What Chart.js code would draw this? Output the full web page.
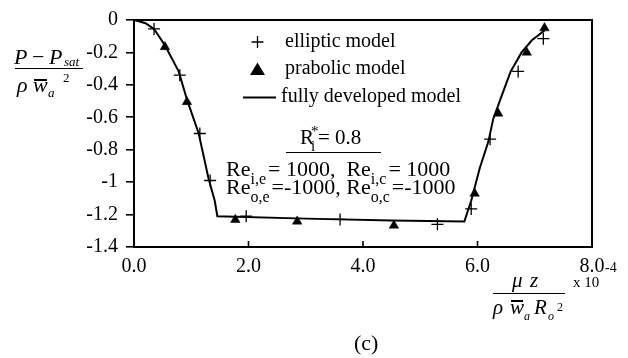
<!DOCTYPE html>
<html><head><meta charset="utf-8">
<script src="https://cdn.jsdelivr.net/npm/chart.js@4.4.1/dist/chart.umd.min.js"></script>
<style>
html,body{margin:0;padding:0;background:#fff;}
#wrap{position:relative;width:628px;height:358px;overflow:hidden;font-family:'Liberation Serif','Times New Roman',serif;color:#000;}
#c{position:absolute;left:0;top:0;}
.t{position:absolute;white-space:nowrap;line-height:1;}
.i{font-style:italic;}
.s{font-size:16px;position:relative;top:8px;margin-right:2px;}
.hl{position:absolute;background:#000;}
</style></head><body>
<div id="wrap"><canvas id="c" width="628" height="358"></canvas></div>
<script>
// ---- data ----
const seriesNames = ['elliptic model', 'prabolic model', 'fully developed model'];

const ellipticX = [0.35, 0.80, 1.15, 1.33, 1.96, 3.60, 5.30, 5.89, 6.22, 6.71, 7.15];
const ellipticY = [-0.055, -0.34, -0.70, -0.99, -1.21, -1.23, -1.26, -1.165, -0.735, -0.317, -0.115];

const parabolicX = [0.54, 0.925, 1.77, 2.85, 4.54, 5.95, 6.36, 6.86, 7.17];
const parabolicY = [-0.166, -0.505, -1.232, -1.242, -1.267, -1.07, -0.576, -0.20, -0.05];

const modelX = [0, 0.07, 0.20, 0.35, 0.54, 0.78, 0.925, 1.13, 1.30, 1.41, 1.456, 3.0, 4.5, 5.77, 5.89, 6.04, 6.19, 6.275, 6.42, 6.58, 6.77, 6.95, 7.17];
const modelY = [0, -0.006, -0.02, -0.055, -0.156, -0.317, -0.49, -0.70, -0.974, -1.115, -1.21, -1.225, -1.237, -1.243, -1.115, -0.913, -0.75, -0.61, -0.469, -0.317, -0.20, -0.125, -0.065];

const xTicks = [0, 2, 4, 6, 8];
const xTickLabels = ['0.0', '2.0', '4.0', '6.0', '8.0'];
const yTicks = [0, -0.2, -0.4, -0.6, -0.8, -1, -1.2, -1.4];
const yTickLabels = ['0', '-0.2', '-0.4', '-0.6', '-0.8', '-1', '-1.2', '-1.4'];

// ---- helpers ----
const FONT = "'Liberation Serif','Times New Roman',serif";
const pts = (xs, ys) => xs.map((x, i) => ({x: x, y: ys[i]}));
const lab = (ticks, labels) => v => { const i = ticks.findIndex(t => Math.abs(t - v) < 1e-9); return i >= 0 ? labels[i] : ''; };

const framePlugin = {
  id: 'frame',
  afterDraw(chart) {
    const {ctx, chartArea: a} = chart;
    const xs = chart.scales.x;
    ctx.save();
    ctx.strokeStyle = '#000';
    ctx.lineWidth = 2;
    ctx.beginPath();
    ctx.moveTo(a.left - 1, a.top); ctx.lineTo(a.right, a.top); ctx.lineTo(a.right, a.bottom);
    ctx.stroke();
    ctx.lineWidth = 1.6;
    xTicks.forEach(v => {
      const px = xs.getPixelForValue(v);
      ctx.beginPath(); ctx.moveTo(px, a.bottom); ctx.lineTo(px, a.bottom - 6); ctx.stroke();
    });
    ctx.restore();
  }
};

const legendPlugin = {
  id: 'legendBox',
  afterDatasetsDraw(chart) {
    const ctx = chart.ctx;
    ctx.save();
    ctx.fillStyle = '#000'; ctx.strokeStyle = '#000';
    ctx.font = '20px ' + FONT;
    ctx.textBaseline = 'alphabetic';
    // row 1: cross
    ctx.lineWidth = 1.3;
    ctx.beginPath();
    ctx.moveTo(251.5, 42); ctx.lineTo(263.5, 42);
    ctx.moveTo(257.5, 36); ctx.lineTo(257.5, 48);
    ctx.stroke();
    ctx.fillText(chart.data.datasets[1].label, 285, 46.5);
    // row 2: triangle
    ctx.beginPath();
    ctx.moveTo(257.5, 62.5); ctx.lineTo(265, 75); ctx.lineTo(250, 75); ctx.closePath();
    ctx.fill();
    ctx.fillText(chart.data.datasets[2].label, 285, 73.5);
    // row 3: line
    ctx.lineWidth = 2;
    ctx.beginPath(); ctx.moveTo(243, 97.5); ctx.lineTo(276, 97.5); ctx.stroke();
    ctx.fillText(chart.data.datasets[0].label, 281, 101.5);
    ctx.restore();
  }
};

new Chart(document.getElementById('c'), {
  type: 'scatter',
  data: {
    datasets: [
      { label: seriesNames[2], data: pts(modelX, modelY), showLine: true, borderColor: '#000', borderWidth: 2, pointRadius: 0, tension: 0, fill: false },
      { label: seriesNames[0], data: pts(ellipticX, ellipticY), pointStyle: 'cross', pointRadius: 6, borderColor: '#000', borderWidth: 1.3, backgroundColor: '#000', showLine: false },
      { label: seriesNames[1], data: pts(parabolicX, parabolicY), pointStyle: 'triangle', pointRadius: 5.5, borderColor: '#000', borderWidth: 0.5, backgroundColor: '#000', showLine: false }
    ]
  },
  options: {
    responsive: false,
    animation: false,
    devicePixelRatio: 1,
    layout: { padding: { left: 0, right: 36, top: 16, bottom: 0 } },
    plugins: { legend: { display: false }, tooltip: { enabled: false } },
    scales: {
      x: {
        type: 'linear', min: 0, max: 8,
        afterBuildTicks: s => { s.ticks = xTicks.map(v => ({value: v})); },
        afterFit: s => { s.height = 111; },
        grid: { display: false, drawTicks: false },
        border: { display: true, color: '#000', width: 2 },
        ticks: { callback: lab(xTicks, xTickLabels), autoSkip: false, maxRotation: 0, padding: 8, color: '#000', font: { family: FONT, size: 20 } }
      },
      y: {
        type: 'linear', min: -1.4, max: 0,
        afterBuildTicks: s => { s.ticks = yTicks.map(v => ({value: v})); },
        afterFit: s => { s.width = 134; },
        grid: { display: true, drawOnChartArea: false, drawTicks: true, tickLength: 8, color: '#000', lineWidth: 1.6 },
        border: { display: true, color: '#000', width: 2 },
        ticks: { callback: lab(yTicks, yTickLabels), autoSkip: false, padding: 8, color: '#000', font: { family: FONT, size: 20 } }
      }
    }
  },
  plugins: [framePlugin, legendPlugin]
});

// ---- text labels (real text) ----
const wrap = document.getElementById('wrap');
function txt(html, x, base, size, cls) {
  const d = document.createElement('div');
  d.className = 't ' + (cls || '');
  d.style.fontSize = size + 'px';
  d.style.left = x + 'px';
  d.style.top = (base - 0.8375 * size) + 'px';
  d.innerHTML = html;
  wrap.appendChild(d);
}
function hline(x1, x2, y, w) {
  const d = document.createElement('div');
  d.className = 'hl';
  d.style.left = x1 + 'px'; d.style.width = (x2 - x1) + 'px';
  d.style.top = (y - w / 2) + 'px'; d.style.height = w + 'px';
  wrap.appendChild(d);
}
// y-axis title
txt('P', 14, 64, 22, 'i');
txt('−', 32, 64, 22);
txt('P', 49, 64, 22, 'i');
txt('sat', 64, 66, 13, 'i');
hline(15, 83, 68.5, 1.5);
txt('ρ', 17, 92, 22, 'i');
txt('w', 33, 92, 22, 'i');
hline(34, 47, 80, 1.3);
txt('a', 48, 97, 13, 'i');
txt('2', 63, 82, 13);
// x-axis title
txt('μ', 512, 288, 21, 'i');
txt('z', 530, 288, 21, 'i');
hline(493, 565, 293.5, 1.5);
txt('ρ', 493, 315, 21, 'i');
txt('w', 510, 315, 21, 'i');
hline(511, 523, 301, 1.3);
txt('a', 524, 320, 12, 'i');
txt('R', 534, 315, 21, 'i');
txt('o', 548, 320, 12, 'i');
txt('2', 557, 311, 12);
txt('x 10', 573, 288, 15);
txt('-4', 605, 273, 14);
// annotation
txt('R', 300, 145, 21);
txt('*', 311, 137, 15);
txt('i', 311, 152, 15);
txt('= 0.8', 318, 145, 21);
hline(286, 381, 152.5, 1.5);
txt('Re<span class="s">i,e</span>= 1000,&nbsp; Re<span class="s">i,c</span>= 1000', 226, 176, 22);
txt('Re<span class="s">o,e</span>=-1000, Re<span class="s">o,c</span>=-1000', 226, 194, 22);
// caption
txt('(c)', 354, 350, 22);
</script>
</body></html>
